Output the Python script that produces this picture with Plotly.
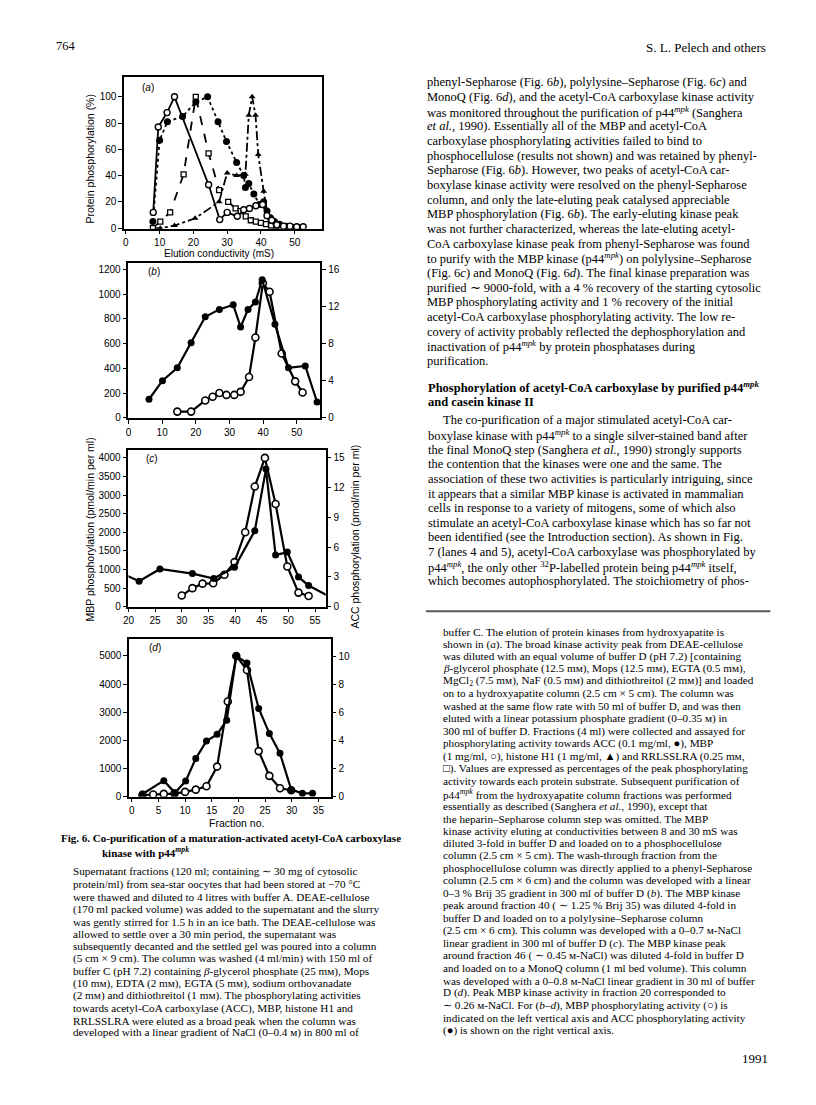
import plotly.graph_objects as go

# ---- panel (a): hydroxyapatite, % of peak activity vs elution conductivity (mS)
acc_a_x = [8, 10, 12.3, 16.8, 20.7, 24.2, 27.3, 29.8, 32.8, 34.9, 35.4, 36.4, 37.9, 39.5, 40.8, 41.8, 42.8, 44, 45.5, 47.5, 50, 52]
acc_a_y = [5, 67, 81, 85, 96, 100, 81, 66, 50, 40, 31, 34, 26, 18, 20, 13, 8, 5, 3, 1.5, 0.5, 0]
mbp_a_x = [8.1, 9.6, 12.2, 14.4, 24.5, 27.8, 30, 33, 34.9, 36.6, 38.5, 40.5, 41.8, 43.2, 44.7, 46.7, 48.6, 50.6, 52.5]
mbp_a_y = [12, 77, 88, 100, 33, 6.5, 12, 9, 14, 15, 17, 18, 9.5, 6, 2.5, 1.5, 1.5, 1, 1]
h1_a_x = [8, 10.2, 14.4, 20.5, 27.6, 30, 32.8, 35.4, 36.4, 37.4, 38.4, 39.2, 40.8, 42, 43.5, 45, 47]
h1_a_y = [0, 0, 2, 7.5, 20, 42, 40, 41, 86, 100, 86, 56, 28, 10, 5, 2, 1]
rr_a_x = [8, 10.2, 13.1, 17.1, 20.7, 24.5, 27.6, 30.3, 32.5, 34, 35.5, 37, 38.5, 40, 41.5, 43, 44.5, 46, 47.5]
rr_a_y = [0, 5, 12, 41, 100, 57, 29, 20, 15, 13, 9, 6, 5, 4, 3, 2, 1.5, 1, 0.5]

# ---- panel (b): phenyl-Sepharose
mbp_b_x = [14.5, 18.6, 22.8, 25, 27, 29.1, 31.4, 33.3, 35.8, 37.7, 39.9, 41.9, 45.5, 49.5, 51.7]
mbp_b_y = [50, 50, 140, 170, 200, 185, 185, 210, 330, 650, 1090, 1020, 520, 295, 205]
acc_b_x = [6.1, 10.1, 14.5, 18.6, 22.8, 27, 31.1, 33.3, 35.5, 37.7, 39.7, 43.5, 47.5, 52.5, 56]
acc_b_y = [2.0, 4.0, 5.4, 8.1, 10.9, 11.7, 12.2, 9.8, 11.7, 12.5, 14.9, 10.1, 5.4, 5.6, 1.7]

# ---- panel (c): polylysine-Sepharose
mbp_c_x = [30, 32, 33.9, 35.9, 38, 39.9, 41.9, 43.7, 45.6, 47.6, 49.8, 51.9, 53.8]
mbp_c_y = [300, 500, 620, 630, 860, 1200, 2000, 3230, 4000, 2760, 1080, 380, 290]
acc_c_x = [18, 22, 25.9, 32, 36, 39.9, 43.7, 45.8, 47.6, 49.8, 51.9, 53.8, 58.5]
acc_c_y = [3.55, 2.57, 3.81, 3.34, 2.84, 3.97, 7.65, 13.87, 5.21, 5.51, 3.0, 2.14, 0.8]

# ---- panel (d): MonoQ, fraction no.
mbp_d_x = [2, 4, 6, 8, 10, 12, 14, 16, 18, 19.6, 21.6, 23.8, 25.8, 27.8, 29.9]
mbp_d_y = [60, 80, 100, 110, 170, 250, 370, 1070, 3380, 5000, 4500, 1620, 740, 300, 230]
acc_d_x = [2, 6, 8.1, 10.1, 12, 14, 16, 17.8, 19.6, 21.6, 23.8, 25.8, 27.8, 29.9, 32, 33.9]
acc_d_y = [0.19, 1.14, 0.28, 1.11, 2.72, 3.95, 4.43, 5.44, 10.0, 9.5, 6.27, 4.5, 3.08, 0.5, 0.24, 0.24]

W, H = 816, 1105
# the page sits inside the body margin, so pull everything back a little
DX, DY = 8, 7


def px(x):
    return (x - DX) / W


def py(y):
    return 1 - (y - DY) / H


fig = go.Figure()

fill_c = dict(symbol="circle", size=7, color="black")
lw = 1.8

# panel a
fig.add_trace(go.Scatter(x=h1_a_x, y=h1_a_y, mode="lines+markers", line=dict(color="black", width=lw, dash="dashdot"),
                         marker=dict(symbol="triangle-up", size=6, color="black"), xaxis="x", yaxis="y"))
fig.add_trace(go.Scatter(x=rr_a_x, y=rr_a_y, mode="lines+markers", line=dict(color="black", width=lw, dash="dash"),
                         marker=dict(symbol="square", size=5, color="white", line=dict(width=1.3, color="black")),
                         xaxis="x", yaxis="y"))
fig.add_trace(go.Scatter(x=acc_a_x, y=acc_a_y, mode="lines+markers", line=dict(color="black", width=lw, dash="dot"),
                         marker=fill_c, xaxis="x", yaxis="y"))
fig.add_trace(go.Scatter(x=mbp_a_x, y=mbp_a_y, mode="lines+markers", line=dict(color="black", width=lw),
                         marker=dict(symbol="circle", size=6, color="white", line=dict(width=1.4, color="black")),
                         xaxis="x", yaxis="y"))

# panels b-d: ACC on the right axis, MBP on the left axis
for xs, ys, xa, ya in [(acc_b_x, acc_b_y, "x2", "y3"), (acc_c_x, acc_c_y, "x3", "y5"), (acc_d_x, acc_d_y, "x4", "y7")]:
    fig.add_trace(go.Scatter(x=xs, y=ys, mode="lines+markers", line=dict(color="black", width=2.2),
                             marker=fill_c, xaxis=xa, yaxis=ya))
for xs, ys, xa, ya in [(mbp_b_x, mbp_b_y, "x2", "y2"), (mbp_c_x, mbp_c_y, "x3", "y4"), (mbp_d_x, mbp_d_y, "x4", "y6")]:
    fig.add_trace(go.Scatter(x=xs, y=ys, mode="lines+markers", line=dict(color="black", width=2.2),
                             marker=dict(symbol="circle", size=7, color="white", line=dict(width=1.6, color="black")),
                             xaxis=xa, yaxis=ya))

tickfont = dict(family="Liberation Sans", size=10, color="black")
ax = dict(showline=True, linecolor="black", linewidth=1.5, ticks="outside", ticklen=4, tickwidth=1.2,
          tickcolor="black", showgrid=False, zeroline=False, tickfont=tickfont)

fig.update_layout(
    width=W, height=H, margin=dict(l=0, r=0, t=0, b=0), showlegend=False,
    paper_bgcolor="white", plot_bgcolor="white",
    xaxis=dict(ax, domain=[px(119), px(318)], range=[-0.5, 58], tickvals=[0, 10, 20, 30, 40, 50], mirror=True, anchor="y",
               ticklen=3),
    yaxis=dict(ax, domain=[py(229), py(76.5)], range=[-0.5, 115], tickvals=[0, 20, 40, 60, 80, 100], mirror=True, anchor="x"),
    xaxis2=dict(ax, domain=[px(123.3), px(316.7)], range=[0, 57], tickvals=[0, 10, 20, 30, 40, 50], mirror=True, anchor="y2"),
    yaxis2=dict(ax, domain=[py(419), py(263.3)], range=[0, 1254], tickvals=list(range(0, 1201, 200)), anchor="x2"),
    yaxis3=dict(ax, overlaying="y2", side="right", anchor="x2", range=[0, 1254 / 75], tickvals=[0, 4, 8, 12, 16]),
    xaxis3=dict(ax, domain=[px(123.3), px(322)], range=[20, 57], tickvals=[20, 25, 30, 35, 40, 45, 50, 55], mirror=True, anchor="y4"),
    yaxis4=dict(ax, domain=[py(609), py(451)], range=[0, 4223], tickvals=list(range(0, 4001, 500)), anchor="x3"),
    yaxis5=dict(ax, overlaying="y4", side="right", anchor="x3", range=[0, 4223 / 266.67], tickvals=[0, 3, 6, 9, 12, 15]),
    xaxis4=dict(ax, domain=[px(124), px(327)], range=[-0.5, 37.3], tickvals=[0, 5, 10, 15, 20, 25, 30, 35], mirror=True, anchor="y6"),
    yaxis6=dict(ax, domain=[py(800), py(641)], range=[0, 5618], tickvals=[0, 1000, 2000, 3000, 4000, 5000], anchor="x4"),
    yaxis7=dict(ax, overlaying="y6", side="right", anchor="x4", range=[0, 11.24], tickvals=[0, 2, 4, 6, 8, 10]),
)

ann = []


def txt(x, y, s, size=12.5, fam="Liberation Serif", xa="left", angle=0, bold=False):
    if bold:
        s = "<b>" + s + "</b>"
    ann.append(dict(x=px(x), y=py(y), xref="paper", yref="paper", text=s, showarrow=False, xanchor=xa,
                    yanchor="middle", textangle=angle, font=dict(family=fam, size=size, color="black")))


# panel letters and axis titles
for x, y, s in [(135, 87, "(<i>a</i>)"), (141, 272, "(<i>b</i>)"), (139, 460, "(<i>c</i>)"), (142, 650, "(<i>d</i>)")]:
    txt(x, y, s, size=10, fam="Liberation Sans")

txt(85, 158, "Protein phosphorylation (%)", size=10.5, fam="Liberation Sans", xa="center", angle=-90)
txt(215, 253.5, "Elution conductivity (mS)", size=10, fam="Liberation Sans", xa="center")
txt(85, 531, "MBP phosphorylation (pmol/min per ml)", size=10.5, fam="Liberation Sans", xa="center", angle=-90)
txt(352, 538, "ACC phosphorylation (pmol/min per ml)", size=10.5, fam="Liberation Sans", xa="center", angle=-90)
txt(232, 826, "Fraction no.", size=10.5, fam="Liberation Sans", xa="center")

txt(48, 45, "764", size=12.5)
txt(768, 47, "S. L. Pelech and others", size=13, xa="right")
txt(770, 1063, "1991", size=13, xa="right")

mpk = "p44<sup><i>mpk</i></sup>"
sm = "ᴍ"
mM = "m" + sm

col1 = [
    "phenyl-Sepharose (Fig. 6<i>b</i>), polylysine–Sepharose (Fig. 6<i>c</i>) and",
    "MonoQ (Fig. 6<i>d</i>), and the acetyl-CoA carboxylase kinase activity",
    "was monitored throughout the purification of " + mpk + " (Sanghera",
    "<i>et al.</i>, 1990). Essentially all of the MBP and acetyl-CoA",
    "carboxylase phosphorylating activities failed to bind to",
    "phosphocellulose (results not shown) and was retained by phenyl-",
    "Sepharose (Fig. 6<i>b</i>). However, two peaks of acetyl-CoA car-",
    "boxylase kinase activity were resolved on the phenyl-Sepharose",
    "column, and only the late-eluting peak catalysed appreciable",
    "MBP phosphorylation (Fig. 6<i>b</i>). The early-eluting kinase peak",
    "was not further characterized, whereas the late-eluting acetyl-",
    "CoA carboxylase kinase peak from phenyl-Sepharose was found",
    "to purify with the MBP kinase (" + mpk + ") on polylysine–Sepharose",
    "(Fig. 6<i>c</i>) and MonoQ (Fig. 6<i>d</i>). The final kinase preparation was",
    "purified ∼ 9000-fold, with a 4 % recovery of the starting cytosolic",
    "MBP phosphorylating activity and 1 % recovery of the initial",
    "acetyl-CoA carboxylase phosphorylating activity. The low re-",
    "covery of activity probably reflected the dephosphorylation and",
    "inactivation of " + mpk + " by protein phosphatases during",
    "purification.",
]
for i, s in enumerate(col1):
    txt(422, 81.7 + i * 14.74, s)

txt(423, 388.5, "Phosphorylation of acetyl-CoA carboxylase by purified " + mpk, bold=True)
txt(423, 403, "and casein kinase II", bold=True)

col2 = [
    "The co-purification of a major stimulated acetyl-CoA car-",
    "boxylase kinase with " + mpk + " to a single silver-stained band after",
    "the final MonoQ step (Sanghera <i>et al.</i>, 1990) strongly supports",
    "the contention that the kinases were one and the same. The",
    "association of these two activities is particularly intriguing, since",
    "it appears that a similar MBP kinase is activated in mammalian",
    "cells in response to a variety of mitogens, some of which also",
    "stimulate an acetyl-CoA carboxylase kinase which has so far not",
    "been identified (see the Introduction section). As shown in Fig.",
    "7 (lanes 4 and 5), acetyl-CoA carboxylase was phosphorylated by",
    mpk + ", the only other <sup>32</sup>P-labelled protein being " + mpk + " itself,",
    "which becomes autophosphorylated. The stoichiometry of phos-",
]
for i, s in enumerate(col2):
    txt(438 if i == 0 else 423, 421.7 + i * 14.7, s)

legend = [
    "buffer C. The elution of protein kinases from hydroxyapatite is",
    "shown in (<i>a</i>). The broad kinase activity peak from DEAE-cellulose",
    "was diluted with an equal volume of buffer D (pH 7.2) [containing",
    "<i>β</i>-glycerol phosphate (12.5 " + mM + "), Mops (12.5 " + mM + "), EGTA (0.5 " + mM + "),",
    "MgCl<sub>2</sub> (7.5 " + mM + "), NaF (0.5 " + mM + ") and dithiothreitol (2 " + mM + ")] and loaded",
    "on to a hydroxyapatite column (2.5 cm × 5 cm). The column was",
    "washed at the same flow rate with 50 ml of buffer D, and was then",
    "eluted with a linear potassium phosphate gradient (0–0.35 " + sm + ") in",
    "300 ml of buffer D. Fractions (4 ml) were collected and assayed for",
    "phosphorylating activity towards ACC (0.1 mg/ml, ●), MBP",
    "(1 mg/ml, ○), histone H1 (1 mg/ml, ▲) and RRLSSLRA (0.25 " + mM + ",",
    "□). Values are expressed as percentages of the peak phosphorylating",
    "activity towards each protein substrate. Subsequent purification of",
    mpk + " from the hydroxyapatite column fractions was performed",
    "essentially as described (Sanghera <i>et al.</i>, 1990), except that",
    "the heparin–Sepharose column step was omitted. The MBP",
    "kinase activity eluting at conductivities between 8 and 30 mS was",
    "diluted 3-fold in buffer D and loaded on to a phosphocellulose",
    "column (2.5 cm × 5 cm). The wash-through fraction from the",
    "phosphocellulose column was directly applied to a phenyl-Sepharose",
    "column (2.5 cm × 6 cm) and the column was developed with a linear",
    "0–3 % Brij 35 gradient in 300 ml of buffer D (<i>b</i>). The MBP kinase",
    "peak around fraction 40 ( ∼ 1.25 % Brij 35) was diluted 4-fold in",
    "buffer D and loaded on to a polylysine–Sepharose column",
    "(2.5 cm × 6 cm). This column was developed with a 0–0.7 " + sm + "-NaCl",
    "linear gradient in 300 ml of buffer D (<i>c</i>). The MBP kinase peak",
    "around fraction 46 ( ∼ 0.45 " + sm + "-NaCl) was diluted 4-fold in buffer D",
    "and loaded on to a MonoQ column (1 ml bed volume). This column",
    "was developed with a 0–0.8 " + sm + "-NaCl linear gradient in 30 ml of buffer",
    "D (<i>d</i>). Peak MBP kinase activity in fraction 20 corresponded to",
    "∼ 0.26 " + sm + "-NaCl. For (<i>b–d</i>), MBP phosphorylating activity (○) is",
    "indicated on the left vertical axis and ACC phosphorylating activity",
    "(●) is shown on the right vertical axis.",
]
for i, s in enumerate(legend):
    txt(438, 634 + i * 12.53, s, size=11.2)

txt(53, 842, "Fig. 6. Co-purification of a maturation-activated acetyl-CoA carboxylase", size=11, bold=True)
txt(95, 856, "kinase with " + mpk, size=11, bold=True)

methods = [
    "Supernatant fractions (120 ml; containing ∼ 30 mg of cytosolic",
    "protein/ml) from sea-star oocytes that had been stored at −70 °C",
    "were thawed and diluted to 4 litres with buffer A. DEAE-cellulose",
    "(170 ml packed volume) was added to the supernatant and the slurry",
    "was gently stirred for 1.5 h in an ice bath. The DEAE-cellulose was",
    "allowed to settle over a 30 min period, the supernatant was",
    "subsequently decanted and the settled gel was poured into a column",
    "(5 cm × 9 cm). The column was washed (4 ml/min) with 150 ml of",
    "buffer C (pH 7.2) containing <i>β</i>-glycerol phosphate (25 " + mM + "), Mops",
    "(10 " + mM + "), EDTA (2 " + mM + "), EGTA (5 " + mM + "), sodium orthovanadate",
    "(2 " + mM + ") and dithiothreitol (1 " + mM + "). The phosphorylating activities",
    "towards acetyl-CoA carboxylase (ACC), MBP, histone H1 and",
    "RRLSSLRA were eluted as a broad peak when the column was",
    "developed with a linear gradient of NaCl (0–0.4 " + sm + ") in 800 ml of",
]
for i, s in enumerate(methods):
    txt(65, 875.7 + i * 12.45, s, size=11.2)

fig.update_layout(annotations=ann)
fig.add_shape(type="line", xref="paper", yref="paper", x0=px(423), x1=px(770), y0=py(613.5), y1=py(613.5),
              line=dict(color="#555555", width=2))

fig.write_html("out.html")
